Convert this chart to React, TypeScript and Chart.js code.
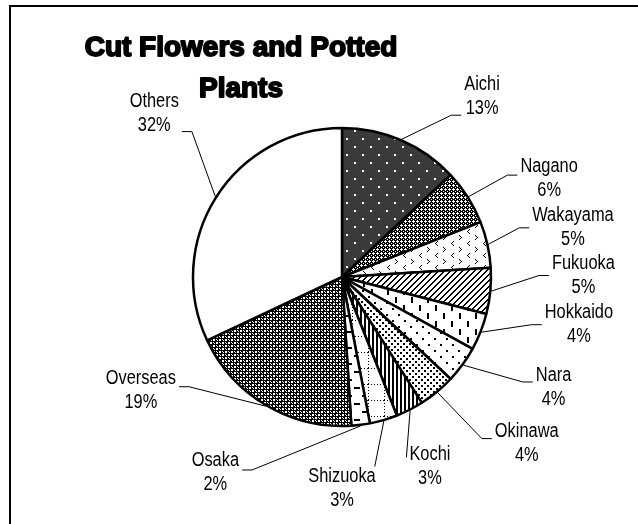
import React, { useEffect, useRef } from "react";
import { Chart, registerables } from "chart.js";

Chart.register(...registerables);

// ---- data ----
const categories = [
  "Aichi", "Nagano", "Wakayama", "Fukuoka", "Hokkaido", "Nara",
  "Okinawa", "Kochi", "Shizuoka", "Osaka", "Overseas", "Others",
];
const shares = [13, 6, 5, 5, 4, 4, 4, 3, 3, 2, 19, 32];
const titleLines = ["Cut Flowers and Potted", "Plants"];

// ---- layout (label block centre relative to pie centre, in radius units; attach side; attach fraction; tail length) ----
const LABEL_LAYOUT: [number, number, string, number, number][] = [
  [0.94, -1.21, "l", 0.92, 10],
  [1.39, -0.66, "l", 0.42, 10],
  [1.55, -0.33, "l", 0.5, 10],
  [1.62, -0.01, "l", 0.5, 10],
  [1.59, 0.32, "l", 0.5, 10],
  [1.42, 0.74, "l", 0.38, 10],
  [1.24, 1.12, "l", 0.38, 10],
  [0.59, 1.27, "l", 0.3, 0],
  [0.0, 1.42, "t", 0, 0],
  [-0.85, 1.31, "r", 0.45, 10],
  [-1.35, 0.76, "r", 0.42, 10],
  [-1.26, -1.1, "r", 0.92, 10],
];

function tile(w: number, h: number, bg: string, draw: (g: CanvasRenderingContext2D) => void) {
  const c = document.createElement("canvas");
  c.width = w;
  c.height = h;
  const g = c.getContext("2d")!;
  g.fillStyle = bg;
  g.fillRect(0, 0, w, h);
  g.fillStyle = "#000";
  draw(g);
  return c;
}

function makePatterns(ctx: CanvasRenderingContext2D) {
  const tiles = [
    // Aichi: dark with white dots
    tile(16, 16, "#3a3a3a", (g) => {
      g.fillStyle = "#fff";
      g.fillRect(2, 2, 2, 2);
      g.fillRect(10, 10, 2, 2);
    }),
    // Nagano: white plus on black
    tile(4, 4, "#000", (g) => {
      g.fillStyle = "#fff";
      [[1, 0], [0, 1], [1, 1], [2, 1], [1, 2], [3, 3]].forEach(([x, y]) => g.fillRect(x, y, 1, 1));
    }),
    // Wakayama: chevrons
    tile(16, 12, "#fff", (g) => {
      [[5, 1], [4, 2], [3, 3], [4, 4], [5, 5]].forEach(([x, y]) => g.fillRect(x, y, 1, 1));
      [[11, 7], [12, 8], [13, 9], [12, 10], [11, 11]].forEach(([x, y]) => g.fillRect(x, y, 1, 1));
    }),
    // Fukuoka: diagonal lines
    tile(6, 6, "#fff", (g) => {
      for (let y = 0; y < 6; y++) for (let x = 0; x < 6; x++) if ((x + y) % 6 < 2) g.fillRect(x, y, 1, 1);
    }),
    // Hokkaido: vertical dashes
    tile(16, 16, "#fff", (g) => {
      g.fillRect(3, 1, 2, 6);
      g.fillRect(11, 9, 2, 6);
    }),
    // Nara: sparse dots
    tile(12, 12, "#fff", (g) => {
      g.fillRect(2, 2, 2, 2);
      g.fillRect(8, 8, 2, 2);
    }),
    // Okinawa: denser dots
    tile(6, 6, "#fff", (g) => {
      g.fillRect(1, 1, 2, 2);
      g.fillRect(4, 4, 2, 2);
    }),
    // Kochi: vertical lines
    tile(4, 1, "#fff", (g) => {
      g.fillRect(0, 0, 2, 1);
    }),
    // Shizuoka: dotted grid
    tile(16, 16, "#fff", (g) => {
      for (let i = 0; i < 16; i += 3) {
        g.fillRect(i, 0, 1, 1);
        g.fillRect(0, i, 1, 1);
      }
    }),
    // Osaka: horizontal dashes
    tile(16, 16, "#fff", (g) => {
      g.fillRect(2, 3, 6, 2);
      g.fillRect(10, 11, 6, 2);
    }),
    // Overseas: dense lattice
    tile(6, 6, "#000", (g) => {
      g.fillStyle = "#fff";
      g.fillRect(0, 0, 2, 2);
      g.fillRect(3, 3, 2, 2);
      [[4, 1], [1, 4], [0, 3], [3, 0]].forEach(([x, y]) => g.fillRect(x, y, 1, 1));
    }),
  ];
  const pats: (CanvasPattern | string)[] = tiles.map((t) => ctx.createPattern(t, "repeat")!);
  pats.push("#ffffff");
  return pats;
}

const LABEL_FONT = '20px "Liberation Sans", Arial, sans-serif';
const LABEL_SCALE_X = 0.82;
const LINE_GAP = 24;

const framePlugin = {
  id: "frame",
  beforeDraw(chart: any) {
    const { ctx } = chart;
    ctx.save();
    ctx.fillStyle = "#fff";
    ctx.fillRect(0, 0, chart.width, chart.height);
    ctx.strokeStyle = "#000";
    ctx.lineWidth = 2;
    ctx.strokeRect(10, 6, chart.width + 20, chart.height + 20);
    ctx.restore();
  },
};

const titlePlugin = {
  id: "customTitle",
  afterDraw(chart: any) {
    const { ctx } = chart;
    ctx.save();
    ctx.font = 'bold 28px "Liberation Sans", Arial, sans-serif';
    ctx.textAlign = "center";
    ctx.textBaseline = "alphabetic";
    ctx.fillStyle = "#000";
    ctx.strokeStyle = "#000";
    ctx.lineWidth = 1.8;
    ctx.lineJoin = "round";
    const cx = 241;
    const base = [56, 97];
    titleLines.forEach((t, i) => {
      ctx.fillText(t, cx, base[i]);
      ctx.strokeText(t, cx, base[i]);
    });
    ctx.restore();
  },
};

const labelPlugin = {
  id: "outLabels",
  afterDatasetsDraw(chart: any) {
    const { ctx } = chart;
    const meta = chart.getDatasetMeta(0);
    ctx.save();
    ctx.font = LABEL_FONT;
    ctx.fillStyle = "#000";
    ctx.strokeStyle = "#000";
    ctx.lineWidth = 1;
    ctx.textBaseline = "middle";
    ctx.textAlign = "center";
    meta.data.forEach((arc: any, i: number) => {
      const { x, y, startAngle, endAngle, outerRadius } = arc.getProps(
        ["x", "y", "startAngle", "endAngle", "outerRadius"],
        true
      );
      const mid = (startAngle + endAngle) / 2;
      const px = x + Math.cos(mid) * (outerRadius + 1);
      const py = y + Math.sin(mid) * (outerRadius + 1);
      const [dx, dy, side, frac, tail] = LABEL_LAYOUT[i];
      const cx = x + dx * outerRadius;
      const cy = y + dy * outerRadius;
      const lines = [categories[i], `${shares[i]}%`];
      const w = Math.max(...lines.map((l) => ctx.measureText(l).width)) * LABEL_SCALE_X;
      const left = cx - w / 2 - 3;
      const right = cx + w / 2 + 3;
      const top = cy - LINE_GAP / 2 - 10;
      const bottom = cy + LINE_GAP / 2 + 10;
      let ax: number, ay: number, tx: number;
      if (side === "l") {
        ax = left;
        ay = top + frac * (bottom - top);
        tx = ax - tail;
      } else if (side === "r") {
        ax = right;
        ay = top + frac * (bottom - top);
        tx = ax + tail;
      } else {
        ax = Math.min(Math.max(px, left + 4), right - 4);
        ay = top;
        tx = ax;
      }
      ctx.beginPath();
      ctx.moveTo(px, py);
      ctx.lineTo(tx, ay);
      ctx.lineTo(ax, ay);
      ctx.stroke();
      lines.forEach((l, k) => {
        ctx.save();
        ctx.translate(cx, cy + (k === 0 ? -LINE_GAP / 2 : LINE_GAP / 2));
        ctx.scale(LABEL_SCALE_X, 1);
        ctx.fillText(l, 0, 0);
        ctx.restore();
      });
    });
    ctx.restore();
  },
};

export default function App() {
  const ref = useRef<HTMLCanvasElement | null>(null);
  useEffect(() => {
    const canvas = ref.current!;
    const ctx = canvas.getContext("2d")!;
    const patterns = makePatterns(ctx);
    const chart = new Chart(canvas, {
      type: "pie",
      data: {
        labels: categories,
        datasets: [
          {
            data: shares,
            backgroundColor: patterns as any,
            borderColor: "#000",
            borderWidth: 2.5,
            hoverOffset: 0,
          },
        ],
      },
      options: {
        responsive: false,
        animation: false,
        devicePixelRatio: 1,
        radius: 149,
        layout: { padding: { left: 100, right: 54, top: 100, bottom: 70 } },
        plugins: {
          legend: { display: false },
          title: { display: false },
          tooltip: { enabled: false },
        },
        events: [],
      } as any,
      plugins: [framePlugin, titlePlugin, labelPlugin],
    });
    return () => chart.destroy();
  }, []);
  return (
    <div style={{ position: "fixed", left: 0, top: 0, width: 638, height: 524, background: "#fff" }}>
      <canvas ref={ref} width={638} height={524} style={{ display: "block" }} />
    </div>
  );
}
